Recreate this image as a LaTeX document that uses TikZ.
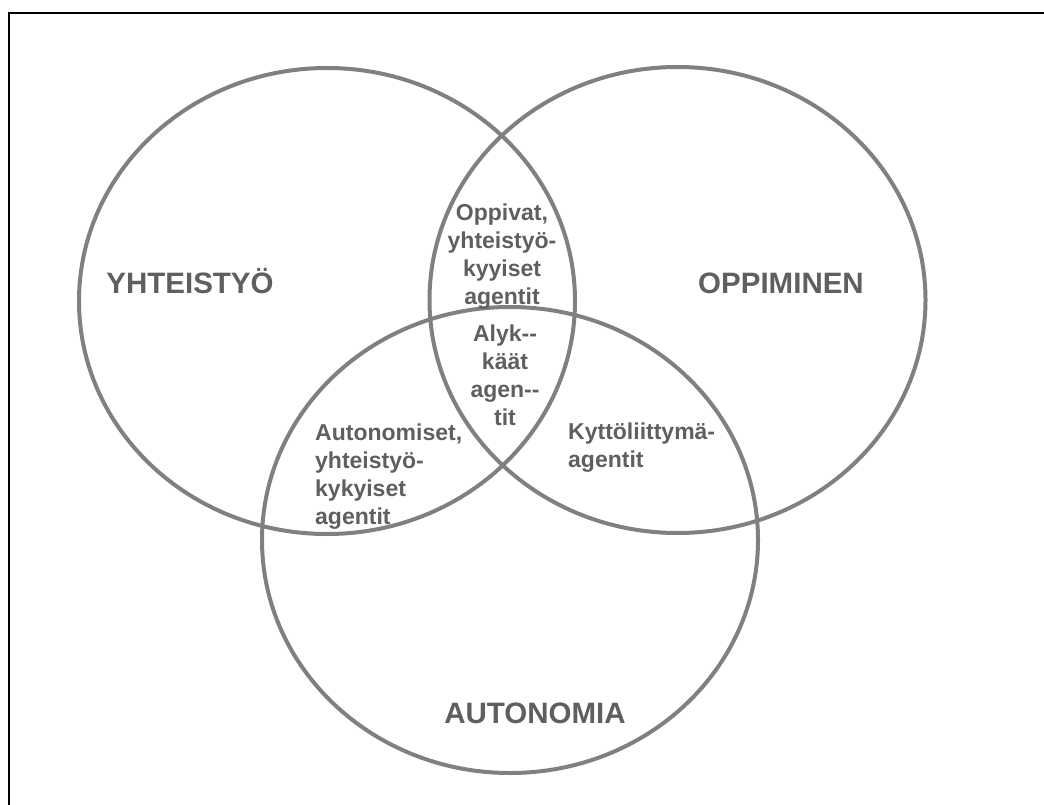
\documentclass[tikz,border=0pt]{standalone}
\usepackage{fontspec}
\setmainfont{Liberation Sans}
\usetikzlibrary{shapes.geometric}
\definecolor{ringgray}{HTML}{808080}
\definecolor{labelgray}{HTML}{5F5F5F}
\begin{document}
\begin{tikzpicture}[x=1pt,y=-1pt,
  ring/.style={ellipse, draw=ringgray, line width=4pt, inner sep=0pt,
               minimum width=496pt, minimum height=466pt},
  biglabel/.style={text=labelgray, font=\fontsize{29.5}{34}\selectfont\bfseries,
                   inner sep=0pt, anchor=base},
  smalllabel/.style={text=labelgray, font=\fontsize{23}{28}\selectfont\bfseries,
                     inner sep=0pt},
]
\useasboundingbox (0,0) rectangle (1044,805);

% frame: top and left edges only
\coordinate (frameBottom) at (8.5,805);
\coordinate (frameCorner) at (8.5,13);
\coordinate (frameRight) at (1044,13);
\draw[line width=2pt] (frameBottom) -- (frameCorner) -- (frameRight);

% the three sets
\node[ring] (yhteistyo) at (327,301) {};
\node[ring] (oppiminen) at (677.5,300) {};
\node[ring] (autonomia) at (510,540) {};

% set names
\node[biglabel] (lblYht) at (190,293) {YHTEISTYÖ};
\node[biglabel] (lblOpp) at (781,293) {OPPIMINEN};
\node[biglabel] (lblAut) at (535,723) {AUTONOMIA};

% intersections
\node[smalllabel, anchor=north, align=center] (lensTop) at (502,204)
  {Oppivat,\\yhteistyö-\\kyyiset\\agentit};
\node[smalllabel, anchor=north, align=center] (lensMid) at (505,325)
  {Alyk-{}-\\käät\\agen-{}-\\tit};
\node[smalllabel, anchor=north west, align=left] (lensLeft) at (315,424)
  {Autonomiset,\\yhteistyö-\\kykyiset\\agentit};
\node[smalllabel, anchor=north west, align=left] (lensRight) at (568,423)
  {Kyttöliittymä-\\agentit};
\end{tikzpicture}
\end{document}
